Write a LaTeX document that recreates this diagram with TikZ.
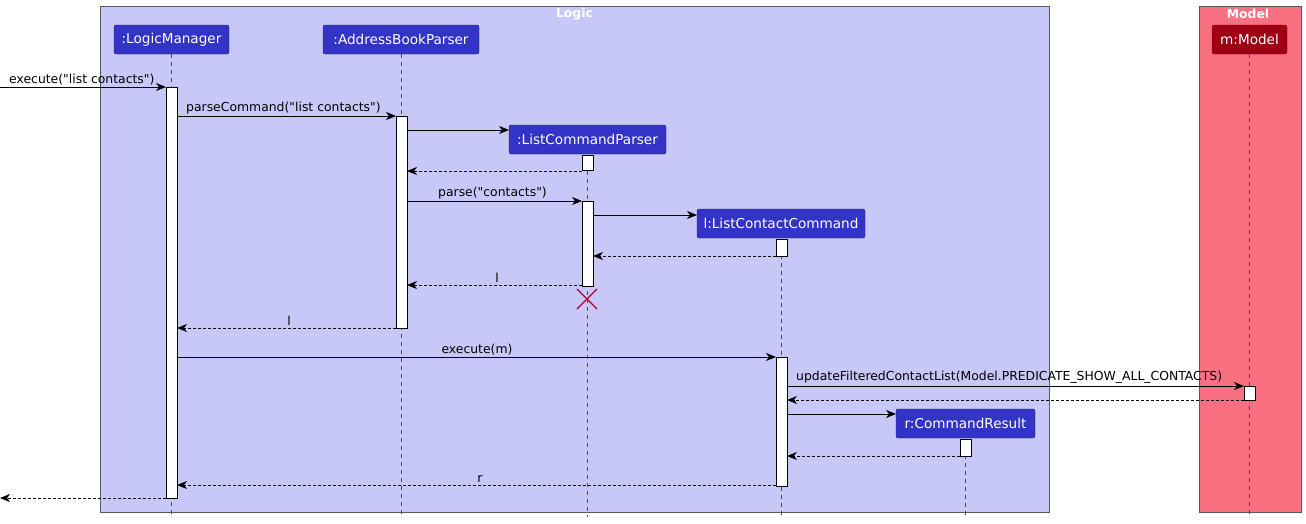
\documentclass[tikz,border=0pt]{standalone}
\usepackage{fontspec}
\setmainfont{DejaVu Sans}[Ligatures=TeXOff]
\usetikzlibrary{arrows.meta}
\newcommand{\dq}{"}
\definecolor{logicbg}{HTML}{C8C8F8}
\definecolor{modelbg}{HTML}{F97181}
\definecolor{part}{HTML}{3333C6}
\definecolor{mpart}{HTML}{9D0012}
\definecolor{xred}{HTML}{A80036}
\begin{document}
\begin{tikzpicture}[x=1pt,y=-1pt,
  font=\fontsize{12.4}{14}\selectfont,
  box/.style={draw=gray!70!black,line width=0.6pt},
  ptc/.style={fill=part,draw=part!60!black,rounded corners=2pt,text=white,inner sep=0pt,minimum height=29pt,font=\fontsize{13.6}{15}\selectfont},
  life/.style={draw=gray!60!black,dash pattern=on 4pt off 4pt,line width=0.5pt},
  act/.style={fill=white,draw=black,line width=0.6pt},
  msg/.style={-{Stealth[length=10pt,width=8pt,inset=3pt]},line width=0.8pt},
  ret/.style={msg,dash pattern=on 3pt off 2pt},
  lab/.style={inner sep=1pt,anchor=south}]
\useasboundingbox (0,0) rectangle (1306,523);
\fill[logicbg,box] (100,6) rectangle (1049,512);
\node[text=white,font=\bfseries\fontsize{12.4}{14}\selectfont] (lt) at (574.5,14) {Logic};
\fill[modelbg,box] (1199,6) rectangle (1301,512);
\node[text=white,font=\bfseries\fontsize{12.4}{14}\selectfont] (mt) at (1248,14) {Model};
% lifelines
\draw[life] (171,54) -- (171,517);
\draw[life] (401,54) -- (401,517);
\draw[life] (587,155) -- (587,517);
\draw[life] (781,239) -- (781,517);
\draw[life] (965,439) -- (965,517);
\draw[life] (1249,54) -- (1249,517);
% participants
\node[ptc,minimum width=115pt] (lm) at (171.5,39.5) {:LogicManager};
\node[ptc,minimum width=156pt] (abp) at (401,39.5) {:AddressBookParser};
\node[ptc,minimum width=157pt] (lcp) at (587.5,139.5) {:ListCommandParser};
\node[ptc,minimum width=168pt] (lcc) at (781,223.5) {l:ListContactCommand};
\node[ptc,minimum width=139pt] (cr) at (965.5,423.5) {r:CommandResult};
\node[ptc,fill=mpart,draw=mpart,minimum width=75pt] (mm) at (1249.5,39.5) {m:Model};
% activations
\draw[act] (166,87) rectangle (177,498);
\draw[act] (396,116) rectangle (407,328);
\draw[act] (582,155) rectangle (593,170);
\draw[act] (582,201) rectangle (593,286);
\draw[act] (776,239) rectangle (787,256);
\draw[act] (776,357) rectangle (787,486);
\draw[act] (960,439) rectangle (971,456);
\draw[act] (1244,386) rectangle (1255,400);
% coordinates
\coordinate (in0) at (0,87); \coordinate (lmA) at (166,87);
\coordinate (lm1) at (177,116); \coordinate (abp1) at (396,116);
\coordinate (abp2) at (407,130); \coordinate (lcpL) at (509,130);
\coordinate (lcp3) at (582,171); \coordinate (abp3) at (407,171);
\coordinate (abp4) at (407,201); \coordinate (lcp4) at (582,201);
\coordinate (lcp5) at (593,215); \coordinate (lccL) at (697,215);
\coordinate (lcc6) at (776,256); \coordinate (lcp6) at (593,256);
\coordinate (lcp7) at (582,285); \coordinate (abp7) at (407,285);
\coordinate (abp8) at (396,328); \coordinate (lm8) at (177,328);
\coordinate (lm9) at (177,357); \coordinate (lcc9) at (776,357);
\coordinate (lcc10) at (787,386); \coordinate (mm10) at (1244,386);
\coordinate (mm11) at (1244,400); \coordinate (lcc11) at (787,400);
\coordinate (lcc12) at (787,414); \coordinate (crL) at (896,414);
\coordinate (cr13) at (960,456); \coordinate (lcc13) at (787,456);
\coordinate (lcc14) at (776,485); \coordinate (lm14) at (177,485);
\coordinate (lm15) at (166,498); \coordinate (out0) at (0,498);
% messages
\draw[msg] (in0) -- (lmA); \node[lab,anchor=south west] (t1) at (8,86) {execute("list contacts")};
\draw[msg] (lm1) -- (abp1); \node[lab,anchor=south west] (t2) at (185,115) {parseCommand("list contacts")};
\draw[msg] (abp2) -- (lcpL);
\draw[ret] (lcp3) -- (abp3);
\draw[msg] (abp4) -- (lcp4); \node[lab,anchor=south west] (t3) at (437,200) {parse("contacts")};
\draw[msg] (lcp5) -- (lccL);
\draw[ret] (lcc6) -- (lcp6);
\draw[ret] (lcp7) -- (abp7); \node[lab] (t4) at (497,284) {l};
\draw[xred,line width=1.2pt] (577,289) -- (597,309) (597,289) -- (577,309);
\draw[ret] (abp8) -- (lm8); \node[lab] (t5) at (289,327) {l};
\draw[msg] (lm9) -- (lcc9); \node[lab] (t6) at (477,356) {execute(m)};
\draw[msg] (lcc10) -- (mm10); \node[lab,anchor=south west] (t7) at (795,385) {updateFilteredContactList(Model.PREDICATE\_SHOW\_ALL\_CONTACTS)};
\draw[ret] (mm11) -- (lcc11);
\draw[msg] (lcc12) -- (crL);
\draw[ret] (cr13) -- (lcc13);
\draw[ret] (lcc14) -- (lm14); \node[lab] (t8) at (480,484) {r};
\draw[ret] (lm15) -- (out0);
\end{tikzpicture}
\end{document}
